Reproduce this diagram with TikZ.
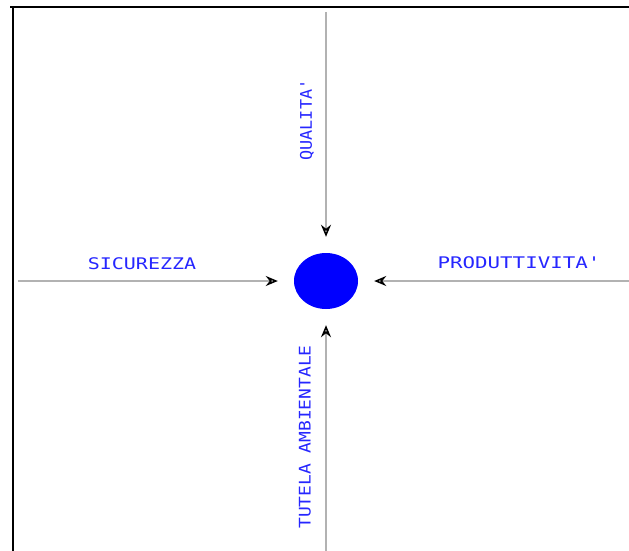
\documentclass[tikz,border=0pt]{standalone}
\usepackage{fontspec}
\newfontfamily\cadfont{DejaVu Sans Mono}
\usetikzlibrary{positioning,shapes.geometric,arrows.meta}
\newcommand{\widetext}[2]{\scalebox{#1}[1]{#2}}

\begin{document}
\begin{tikzpicture}[x=1pt, y=-1pt,
				corenode/.style={ellipse, fill=blue, minimum width=64pt, minimum height=56pt, inner sep=0pt},
				axis/.style={draw=black!30, line width=2pt, -{Stealth[open, black, length=12pt, width=10pt, line width=1.6pt]}, shorten >=16pt},
				lab/.style={text=blue!85, font=\cadfont\fontsize{16}{16}\selectfont, inner sep=0pt},
				]
				\useasboundingbox (0,0) rectangle (629,551);

				%Frame
				\draw[line width=1.8pt] (10,7) -- (629,7);
				\draw[line width=1.8pt] (13,7) -- (13,551);

				%Nodes
				\node[corenode]		(core)	at (326,281)	{};
				\coordinate (top)		at (326,12);
				\coordinate (left)		at (18,281);
				\coordinate (right)		at (629,281);
				\coordinate (bottom)	at (326,551);

				\node[lab]				(sic)	at (142,264)	{\widetext{1.25}{SICUREZZA}};
				\node[lab]				(prod)	at (519,263)	{\widetext{1.3}{PRODUTTIVITA'}};
				\node[lab, rotate=90]	(qual)	at (307,120)	{\widetext{1.05}{QUALITA'}};
				\node[lab, rotate=90]	(tut)	at (305,437)	{\widetext{1.12}{TUTELA AMBIENTALE}};

				%Lines
				\draw[axis]	(top) -- (core);
				\draw[axis]	(left) -- (core);
				\draw[axis]	(right) -- (core);
				\draw[axis]	(bottom) -- (core);
\end{tikzpicture}
\end{document}
